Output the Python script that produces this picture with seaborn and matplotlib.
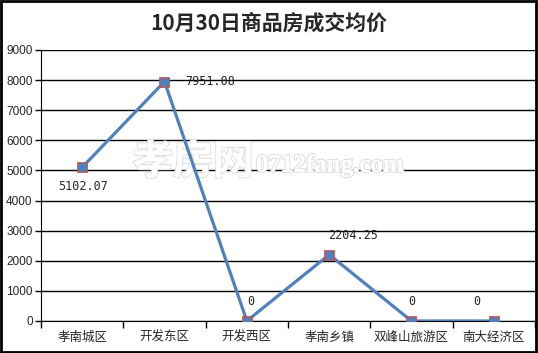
import matplotlib
matplotlib.use("Agg")
import matplotlib.pyplot as plt
import matplotlib.patheffects as pe
import seaborn as sns
import pandas as pd

# data
districts = ["孝南城区", "开发东区", "开发西区", "孝南乡镇", "双峰山旅游区", "南大经济区"]
prices = [5102.07, 7951.08, 0, 2204.25, 0, 0]
price_labels = ["5102.07", "7951.08", "0", "2204.25", "0", "0"]
yticks = [0, 1000, 2000, 3000, 4000, 5000, 6000, 7000, 8000, 9000]

df = pd.DataFrame({"district": districts, "price": prices})

sns.set_style("white")
plt.rcParams["font.family"] = ["Noto Sans CJK SC", "DejaVu Sans"]

fig = plt.figure(figsize=(5.38, 3.53), dpi=100)
ax = fig.add_axes([0.0762, 0.0907, 0.9182, 0.7677])

blue = "#4F81BD"
red = "#C0504D"

sns.lineplot(data=df, x="district", y="price", sort=False, color=blue,
             linewidth=2.3, ax=ax, zorder=3)
sns.scatterplot(data=df, x="district", y="price", marker="s", s=60,
                color=red, edgecolor=red, linewidth=0.5, ax=ax, zorder=4)
sns.scatterplot(data=df, x="district", y="price", marker="o", s=38,
                color=blue, edgecolor=blue, ax=ax, zorder=5)

# value labels
offsets = [(1, -14), (33, 0), (3, 14), (17, 14), (0, 14), (-12, 14)]
for i, (v, lab) in enumerate(zip(prices, price_labels)):
    dx, dy = offsets[i]
    ax.annotate(lab, (i, v), xytext=(dx, dy), textcoords="offset points",
                ha="center", va="center", fontsize=8.5,
                family=["DejaVu Sans Mono"], zorder=6)

ax.set_xlim(-0.5, len(districts) - 0.5)
ax.set_ylim(0, 9000)
ax.set_yticks(yticks)
ax.set_yticklabels([str(t) for t in yticks], fontsize=8.5, family=["Liberation Sans"])
ax.yaxis.grid(True, color="black", linewidth=1.0)
ax.set_axisbelow(True)

ax.set_xticks([i + 0.5 for i in range(-1, len(districts))], minor=False)
ax.set_xticklabels([""] * (len(districts) + 1))
ax.set_xticks(range(len(districts)), minor=True)
ax.set_xticklabels(districts, minor=True, fontsize=9)
ax.tick_params(axis="x", which="major", length=5, width=1, color="black", direction="out", bottom=True)
ax.tick_params(axis="x", which="minor", length=0, pad=7, bottom=True)
ax.tick_params(axis="y", length=4, width=1, color="black", direction="out", left=True, pad=2)

for s in ["top", "right"]:
    ax.spines[s].set_visible(False)
ax.spines["left"].set_color("black")
ax.spines["bottom"].set_color("black")
ax.set_xlabel("")
ax.set_ylabel("")

fig.text(0.5, 0.935, "10月30日商品房成交均价", ha="center", va="center",
         fontsize=15, fontweight="bold")

# watermark
wm = ax.text(0.43, 0.585, "孝房网", transform=ax.transAxes, ha="right", va="center",
             fontsize=29, fontweight="bold", color="white", zorder=2)
wm.set_path_effects([pe.withStroke(linewidth=1.5, foreground="#DCDCDC"), pe.Normal()])
wm2 = ax.text(0.435, 0.575, "0712fang.com", transform=ax.transAxes, ha="left", va="center",
              fontsize=18, family=["Liberation Serif"], fontweight="bold", color="white", zorder=2)
wm2.set_path_effects([pe.withStroke(linewidth=1.5, foreground="#DCDCDC"), pe.Normal()])

# figure border
fig.patches.append(plt.Rectangle((0.002, 0.003), 0.995, 0.993, transform=fig.transFigure,
                                 fill=False, edgecolor="black", linewidth=2))

fig.savefig("out.png", dpi=100)
